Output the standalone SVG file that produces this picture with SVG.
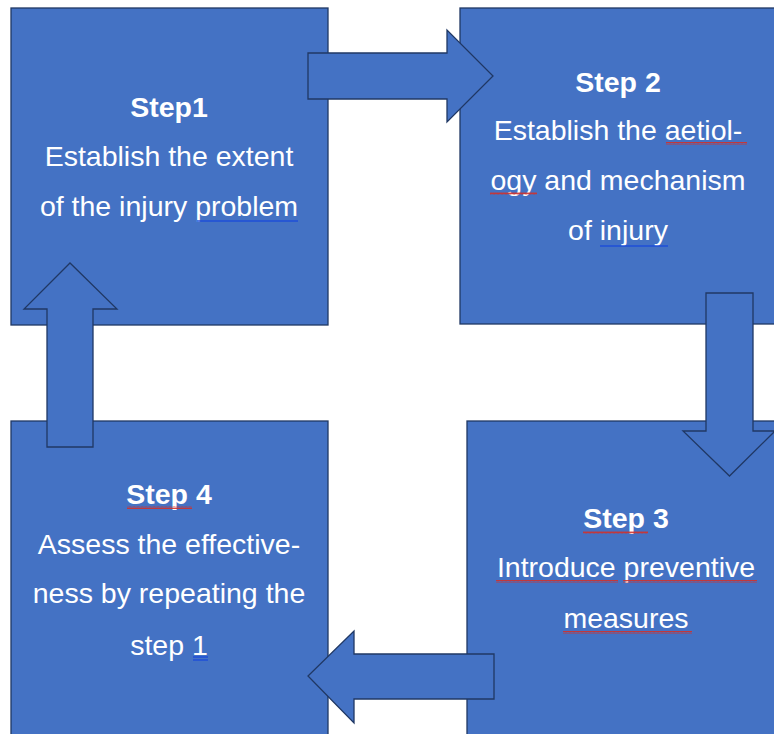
<svg xmlns="http://www.w3.org/2000/svg" width="774" height="734" viewBox="0 0 774 734">
<defs>
<pattern id="squig" x="0" y="0" width="4" height="3" patternUnits="userSpaceOnUse">
<path d="M0,2.5 L1,0.5 L2,2.5 L3,0.5 L4,2.5" fill="none" stroke="#d0312d" stroke-width="0.9"/>
</pattern>
</defs>
<style>
.box{fill:#4472c4;stroke:#203864;stroke-width:1.3}
.arr{fill:#4472c4;stroke:#203864;stroke-width:1.3;stroke-linejoin:miter}
text{font-family:"Liberation Sans",Arial,Helvetica,sans-serif;font-size:28.5px;fill:#ffffff;text-anchor:middle}
.b{font-weight:bold}
.sq{fill:url(#squig)}
.ul{stroke:#1e4fd8;stroke-width:1.5;fill:none}
</style>
<rect width="774" height="734" fill="#ffffff"/>
<g id="step1">
<rect class="box" x="11" y="8" width="317" height="317"/>
<text class="b" x="169" y="117">Step1</text>
<text x="169" y="166">Establish the extent</text>
<text x="169" y="216">of the injury problem</text>
<line class="ul" x1="197" y1="221" x2="298" y2="221"/>
</g>
<g id="step2">
<rect class="box" x="460" y="8" width="318" height="316"/>
<text class="b" x="618" y="92">Step 2</text>
<text x="618" y="140">Establish the aetiol-</text>
<text x="618" y="190">ogy and mechanism</text>
<text x="618" y="240">of injury</text>
<rect class="sq" x="666" y="142" width="81" height="3"/>
<rect class="sq" x="490" y="192" width="47" height="3"/>
<line class="ul" x1="600" y1="246" x2="668" y2="246"/>
</g>
<g id="step3">
<rect class="box" x="467" y="421" width="311" height="317"/>
<text class="b" x="626" y="528">Step 3</text>
<text x="626" y="577">Introduce preventive</text>
<text x="626" y="628">measures</text>
<rect class="sq" x="583" y="531" width="65" height="3"/>
<rect class="sq" x="496" y="580" width="122" height="3"/>
<rect class="sq" x="623" y="580" width="134" height="3"/>
<rect class="sq" x="563" y="631" width="129" height="3"/>
</g>
<g id="step4">
<rect class="box" x="11" y="421" width="317" height="317"/>
<text class="b" x="169" y="504">Step 4</text>
<text x="169" y="554">Assess the effective-</text>
<text x="169" y="603">ness by repeating the</text>
<text x="169" y="655">step 1</text>
<rect class="sq" x="127" y="506" width="65" height="3"/>
<line class="ul" x1="193" y1="657" x2="208" y2="657"/>
<line class="ul" x1="193" y1="660" x2="208" y2="660"/>
</g>
<g id="connectors">
<polygon class="arr" points="308,53 447,53 447,30 493,76 447,122 447,99 308,99"/>
<polygon class="arr" points="706,293 753,293 753,431 775,431 729.5,476 683,431 706,431"/>
<polygon class="arr" points="494,654 354,654 354,631 308,676 354,723 354,699 494,699"/>
<polygon class="arr" points="47,447 47,309 24,309 70,263 117,309 93,309 93,447"/>
</g>
</svg>
